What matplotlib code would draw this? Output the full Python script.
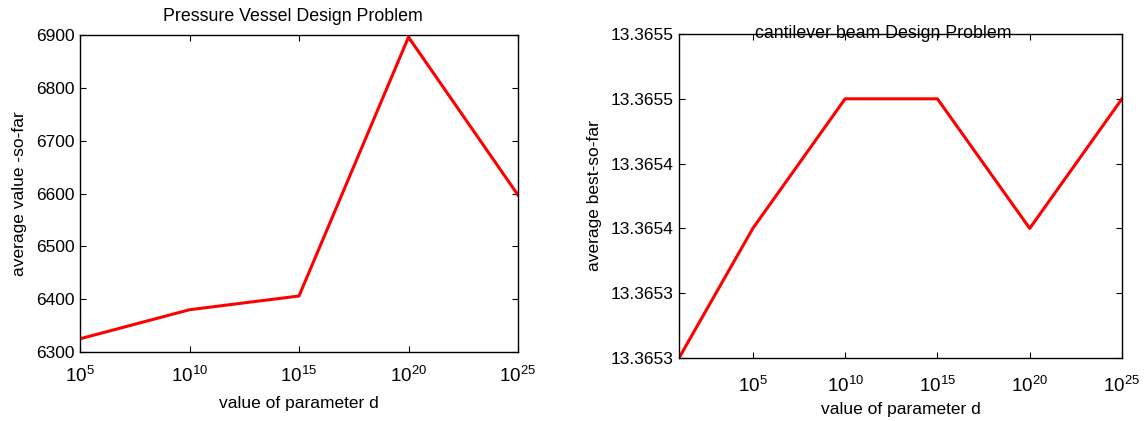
import matplotlib
matplotlib.use("Agg")
import matplotlib.pyplot as plt
from matplotlib.ticker import NullLocator

plt.rcParams['font.family'] = ['Liberation Sans', 'DejaVu Sans']
plt.rcParams['mathtext.fontset'] = 'custom'
plt.rcParams['mathtext.rm'] = 'Liberation Sans'
plt.rcParams['mathtext.it'] = 'Liberation Sans'

# Left: Pressure Vessel
pv_d = [1e5, 1e10, 1e15, 1e20, 1e25]
pv_val = [6325, 6380, 6406, 6896, 6597]
pv_yticks = [6300, 6400, 6500, 6600, 6700, 6800, 6900]

# Right: cantilever beam
cb_d = [1e1, 1e5, 1e10, 1e15, 1e20, 1e25]
cb_val = [13.36525, 13.36535, 13.36545, 13.36545, 13.36535, 13.36545]
cb_yticks = [13.36525, 13.3653, 13.36535, 13.3654, 13.36545, 13.3655]
cb_yticklabels = ['13.3653', '13.3653', '13.3654', '13.3654', '13.3655', '13.3655']

xticks = [1e5, 1e10, 1e15, 1e20, 1e25]
xticklabels = [r'$10^{5}$', r'$10^{10}$', r'$10^{15}$', r'$10^{20}$', r'$10^{25}$']

W, H = 1145, 421
fig = plt.figure(figsize=(W / 100, H / 100), dpi=100)

def box(l, t, r, b):
    return [l / W, 1 - b / H, (r - l) / W, (b - t) / H]

ax1 = fig.add_axes(box(80, 35, 518, 352))
ax2 = fig.add_axes(box(679, 34, 1122, 358))

for ax in (ax1, ax2):
    ax.set_xscale('log')
    ax.xaxis.set_minor_locator(NullLocator())
    ax.tick_params(direction='in', top=True, right=True, length=4, width=0.8,
                   labelsize=12.5, colors='black', pad=4)
    for s in ax.spines.values():
        s.set_linewidth(1.0)

ax1.plot(pv_d, pv_val, color='#ff0000', lw=2.2)
ax1.set_xlim(1e5, 1e25)
ax1.set_ylim(6300, 6900)
ax1.set_xticks(xticks)
ax1.set_xticklabels(xticklabels)
ax1.set_yticks(pv_yticks)
ax1.tick_params(axis='x', pad=10, labelsize=13.5)
ax1.set_xlabel('value of parameter d', fontsize=12.5, labelpad=7)
ax1.set_ylabel('average value -so-far', fontsize=12.5, labelpad=6)
ax1.set_title('Pressure Vessel Design Problem', fontsize=12.8, pad=10, x=0.486)

ax2.plot(cb_d, cb_val, color='#ff0000', lw=2.2)
ax2.set_xlim(1e1, 1e25)
ax2.set_ylim(13.36525, 13.3655)
ax2.set_xticks(xticks)
ax2.set_xticklabels(xticklabels)
ax2.set_yticks(cb_yticks)
ax2.set_yticklabels(cb_yticklabels)
ax2.tick_params(axis='x', pad=13, labelsize=13.5)
ax2.set_xlabel('value of parameter d', fontsize=12.5, labelpad=4)
ax2.set_ylabel('average best-so-far', fontsize=12.5, labelpad=6)
ax2.set_title('cantilever beam Design Problem', fontsize=12.8, pad=-3, x=0.46)

fig.savefig('out.png', dpi=100)
